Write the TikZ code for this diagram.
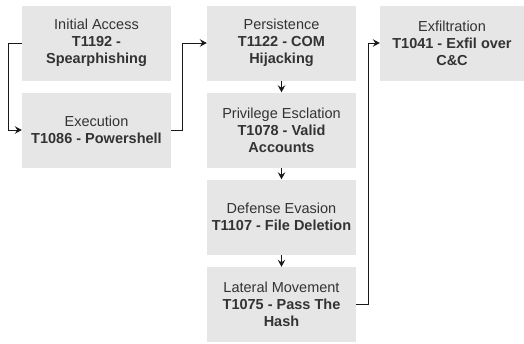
\documentclass[tikz,border=0pt]{standalone}
\usepackage{fontspec}
\setmainfont{Liberation Sans}
\usetikzlibrary{arrows.meta}
\definecolor{boxfill}{HTML}{E6E6E6}
\definecolor{txt}{HTML}{333333}
\tikzset{
  tactic/.style={rectangle, fill=boxfill, draw=none, minimum width=149pt,
    minimum height=75pt, inner sep=0pt, align=center, text=txt,
    font=\fontsize{14.5}{17}\selectfont},
  link/.style={draw=black!90, line width=0.9pt,
    -{Stealth[length=7pt,width=7.5pt,inset=2.5pt]}}
}
\begin{document}
\begin{tikzpicture}[x=1pt,y=-1pt]
\useasboundingbox (0,0) rectangle (524,343);
% first column
\node[tactic] (ia) at (96.5,43) {Initial Access\\\textbf{T1192 -}\\\textbf{Spearphishing}};
\node[tactic] (ex) at (96.5,130) {Execution\\\textbf{T1086 - Powershell}};
% second column
\node[tactic] (pe) at (281.5,43) {Persistence\\\textbf{T1122 - COM}\\\textbf{Hijacking}};
\node[tactic] (pr) at (281.5,130) {Privilege Esclation\\\textbf{T1078 - Valid}\\\textbf{Accounts}};
\node[tactic] (de) at (281.5,217) {Defense Evasion\\\textbf{T1107 - File Deletion}};
\node[tactic] (lm) at (281.5,304.5) {Lateral Movement\\\textbf{T1075 - Pass The}\\\textbf{Hash}};
% third column
\node[tactic, minimum width=144pt] (xf) at (452,43) {Exfiltration\\\textbf{T1041 - Exfil over}\\\textbf{C\&C}};
% connectors
\draw[link] (ia.west) -- ++(-13,0) |- (ex.west);
\draw[link] (ex.east) -- ++(11,0) |- (pe.west);
\draw[link] (pe.south) -- (pr.north);
\draw[link] (pr.south) -- (de.north);
\draw[link] (de.south) -- (lm.north);
\draw[link] (lm.east) -- ++(12,0) |- (xf.west);
\end{tikzpicture}
\end{document}
